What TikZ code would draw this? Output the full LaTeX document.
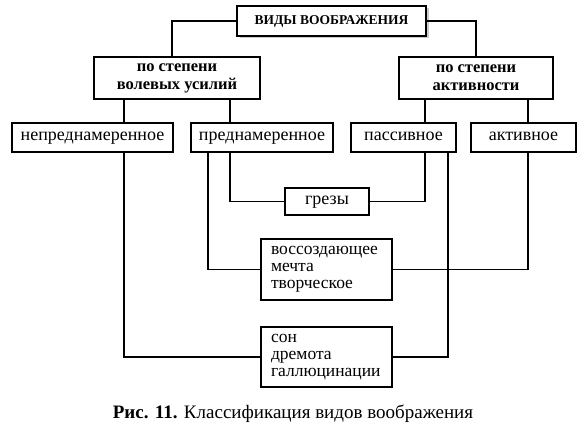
\documentclass[tikz,border=0pt]{standalone}
\usepackage{fontspec}
\setmainfont{Liberation Serif}
\usetikzlibrary{shadows}
\tikzset{
  headbox/.style={draw, line width=2pt, fill=white, inner sep=0pt, align=center, font=\bfseries\fontsize{13.5}{16}\selectfont},
  groupbox/.style={draw, line width=2pt, fill=white, inner sep=0pt, align=center, font=\bfseries\fontsize{16.5}{18}\selectfont},
  kindbox/.style={draw, line width=2pt, fill=white, inner sep=0pt, align=center, text height=1.1ex, text depth=0pt, font=\fontsize{18}{18}\selectfont},
  listbox/.style={draw, line width=2pt, fill=white, inner xsep=10pt, inner ysep=0pt, text width=111pt, align=left, font=\fontsize{17.5}{17}\selectfont},
  link/.style={line width=1.6pt}
}

\begin{document}
\begin{tikzpicture}[x=1pt,y=-1pt]
  \useasboundingbox[fill=white] (0,0) rectangle (586,436);

  % top of the tree
  \node[headbox, minimum width=189pt, minimum height=30pt,
        drop shadow={shadow xshift=2.5pt, shadow yshift=-2.5pt, fill=black!40}] (vidy) at (331.5,21) {ВИДЫ ВООБРАЖЕНИЯ};
  \node[groupbox, minimum width=166pt, minimum height=42pt] (volya) at (177,78) {по степени\\волевых усилий};
  \node[groupbox, minimum width=154pt, minimum height=42pt] (aktivn) at (476,78) {по степени\\активности};

  % kinds
  \node[kindbox, minimum width=161pt, minimum height=29pt] (neprn) at (92.5,137.5) {непреднамеренное};
  \node[kindbox, minimum width=142pt, minimum height=29pt] (predn) at (262,137.5) {преднамеренное};
  \node[kindbox, minimum width=105pt, minimum height=29pt] (passiv) at (403.5,137.5) {пассивное};
  \node[kindbox, minimum width=105pt, minimum height=29pt] (aktiv) at (523.5,137.5) {активное};

  % forms
  \node[kindbox, minimum width=84pt, minimum height=27pt] (grezy) at (327,201.5) {грезы};
  \node[listbox, minimum height=61pt] (voss) at (326.5,269.5) {воссоздающее\\мечта\\творческое};
  \node[listbox, minimum height=60pt] (son) at (326.5,357) {сон\\дремота\\галлюцинации};

  \node (caption) at (293,414) {\fontsize{19}{20}\selectfont\textbf{Рис. 11.} Классификация видов воображения};

  % connectors
  \draw[link] (vidy.west) -| ([xshift=-5pt]volya.north);
  \draw[link] (vidy.east) -| (aktivn.north);
  \draw[link] ([xshift=-53pt]volya.south) -- ([xshift=-53pt]volya.south |- neprn.north);
  \draw[link] ([xshift=53pt]volya.south) -- ([xshift=53pt]volya.south |- predn.north);
  \draw[link] ([xshift=-51pt]aktivn.south) -- ([xshift=-51pt]aktivn.south |- passiv.north);
  \draw[link] ([xshift=52pt]aktivn.south) -- ([xshift=52pt]aktivn.south |- aktiv.north);

  \draw[link] ([xshift=31.5pt]neprn.south) |- (son.west);
  \draw[link] ([xshift=-54pt]predn.south) |- (voss.west);
  \draw[link] ([xshift=-32pt]predn.south) |- (grezy.west);
  \draw[link] ([xshift=21.5pt]passiv.south) |- (grezy.east);
  \draw[link] ([xshift=44.5pt]passiv.south) |- (son.east);
  \draw[link] ([xshift=4.5pt]aktiv.south) |- (voss.east);
\end{tikzpicture}
\end{document}
